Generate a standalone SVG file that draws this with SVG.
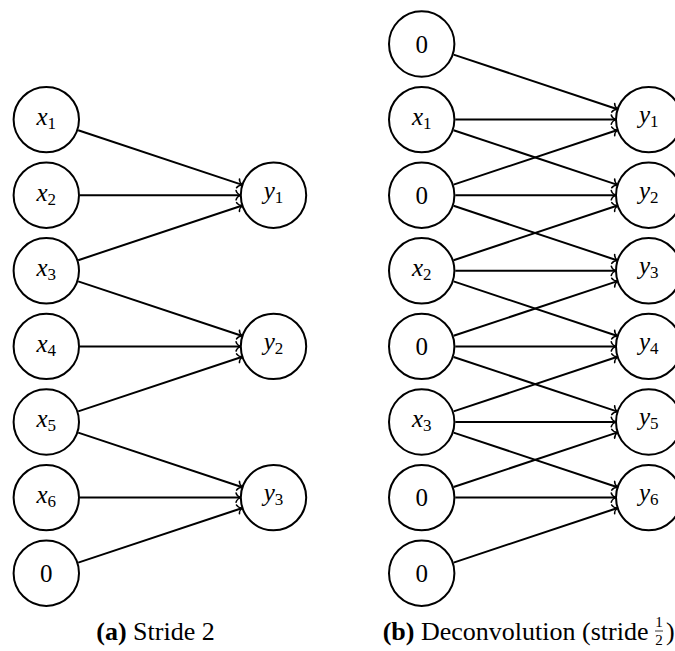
<svg xmlns="http://www.w3.org/2000/svg" width="675" height="651" viewBox="0 0 675 651">
  <style>
    .node circle { fill: #fff; stroke: #000; stroke-width: 2; }
    .lbl { font-family: "Liberation Serif", "Times New Roman", serif; font-size: 25px; fill: #000; }
    .it { font-style: italic; }
    .sub { font-size: 17px; }
    .cap { font-family: "Liberation Serif", "Times New Roman", serif; font-size: 26px; fill: #000; }
    .frac { font-family: "Liberation Serif", "Times New Roman", serif; font-size: 15px; fill: #000; }
    .edges line { stroke: #000; stroke-width: 2; marker-end: url(#to); }
  </style>
  <defs>
    <!-- curved open arrow tip, tip at origin pointing along +x -->
    <marker id="to" markerUnits="userSpaceOnUse" orient="auto" refX="0" refY="0"
            markerWidth="12" markerHeight="12" viewBox="-6 -6 12 12" overflow="visible">
      <path d="M -3.8 -4.6 C -3.4 -2.6 -0.8 -0.5 0.8 0 C -0.8 0.5 -3.4 2.6 -3.8 4.6"
            fill="none" stroke="#000" stroke-width="1.6" stroke-linecap="round" stroke-linejoin="round"/>
    </marker>
  </defs>

  <!-- (a) stride 2 : connectors -->
  <g id="edges-a" class="edges">
    <line x1="78.18" y1="130.21" x2="241.62" y2="184.59"/>
    <line x1="79.9" y1="195.2" x2="239.9" y2="195.2"/>
    <line x1="78.18" y1="260.19" x2="241.62" y2="205.81"/>
    <line x1="78.18" y1="281.41" x2="241.62" y2="335.79"/>
    <line x1="79.9" y1="346.4" x2="239.9" y2="346.4"/>
    <line x1="78.18" y1="411.39" x2="241.62" y2="357.01"/>
    <line x1="78.18" y1="432.61" x2="241.62" y2="486.99"/>
    <line x1="79.9" y1="497.6" x2="239.9" y2="497.6"/>
    <line x1="78.18" y1="562.59" x2="241.62" y2="508.21"/>
  </g>

  <!-- (a) inputs -->
  <g id="a-x1" class="node"><circle cx="46.3" cy="119.6" r="32.7"/>
    <text class="lbl" x="46.3" y="125" text-anchor="middle"><tspan class="it">x</tspan><tspan class="sub" dy="4">1</tspan></text></g>
  <g id="a-x2" class="node"><circle cx="46.3" cy="195.2" r="32.7"/>
    <text class="lbl" x="46.3" y="200.6" text-anchor="middle"><tspan class="it">x</tspan><tspan class="sub" dy="4">2</tspan></text></g>
  <g id="a-x3" class="node"><circle cx="46.3" cy="270.8" r="32.7"/>
    <text class="lbl" x="46.3" y="276.2" text-anchor="middle"><tspan class="it">x</tspan><tspan class="sub" dy="4">3</tspan></text></g>
  <g id="a-x4" class="node"><circle cx="46.3" cy="346.4" r="32.7"/>
    <text class="lbl" x="46.3" y="351.8" text-anchor="middle"><tspan class="it">x</tspan><tspan class="sub" dy="4">4</tspan></text></g>
  <g id="a-x5" class="node"><circle cx="46.3" cy="422" r="32.7"/>
    <text class="lbl" x="46.3" y="427.4" text-anchor="middle"><tspan class="it">x</tspan><tspan class="sub" dy="4">5</tspan></text></g>
  <g id="a-x6" class="node"><circle cx="46.3" cy="497.6" r="32.7"/>
    <text class="lbl" x="46.3" y="503" text-anchor="middle"><tspan class="it">x</tspan><tspan class="sub" dy="4">6</tspan></text></g>
  <g id="a-pad" class="node"><circle cx="46.3" cy="573.2" r="32.7"/>
    <text class="lbl" x="46.3" y="581.7" text-anchor="middle">0</text></g>

  <!-- (a) outputs -->
  <g id="a-y1" class="node"><circle cx="273.5" cy="195.2" r="32.7"/>
    <text class="lbl" x="273.5" y="198.5" text-anchor="middle"><tspan class="it">y</tspan><tspan class="sub" dy="4">1</tspan></text></g>
  <g id="a-y2" class="node"><circle cx="273.5" cy="346.4" r="32.7"/>
    <text class="lbl" x="273.5" y="349.7" text-anchor="middle"><tspan class="it">y</tspan><tspan class="sub" dy="4">2</tspan></text></g>
  <g id="a-y3" class="node"><circle cx="273.5" cy="497.6" r="32.7"/>
    <text class="lbl" x="273.5" y="500.9" text-anchor="middle"><tspan class="it">y</tspan><tspan class="sub" dy="4">3</tspan></text></g>

  <!-- (b) deconvolution : connectors -->
  <g id="edges-b" class="edges">
    <!-- y1 -->
    <line x1="453.58" y1="54.61" x2="616.82" y2="109.0"/>
    <line x1="455.3" y1="119.6" x2="615.1" y2="119.6"/>
    <line x1="453.58" y1="184.59" x2="616.82" y2="130.21"/>
    <!-- y2 -->
    <line x1="453.58" y1="130.21" x2="616.82" y2="184.59"/>
    <line x1="455.3" y1="195.2" x2="615.1" y2="195.2"/>
    <line x1="453.58" y1="260.19" x2="616.82" y2="205.81"/>
    <!-- y3 -->
    <line x1="453.58" y1="205.81" x2="616.82" y2="260.19"/>
    <line x1="455.3" y1="270.8" x2="615.1" y2="270.8"/>
    <line x1="453.58" y1="335.79" x2="616.82" y2="281.41"/>
    <!-- y4 -->
    <line x1="453.58" y1="281.41" x2="616.82" y2="335.79"/>
    <line x1="455.3" y1="346.4" x2="615.1" y2="346.4"/>
    <line x1="453.58" y1="411.39" x2="616.82" y2="357.01"/>
    <!-- y5 -->
    <line x1="453.58" y1="357.01" x2="616.82" y2="411.39"/>
    <line x1="455.3" y1="422" x2="615.1" y2="422"/>
    <line x1="453.58" y1="486.99" x2="616.82" y2="432.61"/>
    <!-- y6 -->
    <line x1="453.58" y1="432.61" x2="616.82" y2="486.99"/>
    <line x1="455.3" y1="497.6" x2="615.1" y2="497.6"/>
    <line x1="453.58" y1="562.59" x2="616.82" y2="508.21"/>
  </g>

  <!-- (b) zero-interleaved inputs -->
  <g id="b-pad0" class="node"><circle cx="421.7" cy="44" r="32.7"/>
    <text class="lbl" x="421.7" y="52.5" text-anchor="middle">0</text></g>
  <g id="b-x1" class="node"><circle cx="421.7" cy="119.6" r="32.7"/>
    <text class="lbl" x="421.7" y="125" text-anchor="middle"><tspan class="it">x</tspan><tspan class="sub" dy="4">1</tspan></text></g>
  <g id="b-pad1" class="node"><circle cx="421.7" cy="195.2" r="32.7"/>
    <text class="lbl" x="421.7" y="203.7" text-anchor="middle">0</text></g>
  <g id="b-x2" class="node"><circle cx="421.7" cy="270.8" r="32.7"/>
    <text class="lbl" x="421.7" y="276.2" text-anchor="middle"><tspan class="it">x</tspan><tspan class="sub" dy="4">2</tspan></text></g>
  <g id="b-pad2" class="node"><circle cx="421.7" cy="346.4" r="32.7"/>
    <text class="lbl" x="421.7" y="354.9" text-anchor="middle">0</text></g>
  <g id="b-x3" class="node"><circle cx="421.7" cy="422" r="32.7"/>
    <text class="lbl" x="421.7" y="427.4" text-anchor="middle"><tspan class="it">x</tspan><tspan class="sub" dy="4">3</tspan></text></g>
  <g id="b-pad3" class="node"><circle cx="421.7" cy="497.6" r="32.7"/>
    <text class="lbl" x="421.7" y="506.1" text-anchor="middle">0</text></g>
  <g id="b-pad4" class="node"><circle cx="421.7" cy="573.2" r="32.7"/>
    <text class="lbl" x="421.7" y="581.7" text-anchor="middle">0</text></g>

  <!-- (b) outputs -->
  <g id="b-y1" class="node"><circle cx="648.7" cy="119.6" r="32.7"/>
    <text class="lbl" x="648.7" y="122.9" text-anchor="middle"><tspan class="it">y</tspan><tspan class="sub" dy="4">1</tspan></text></g>
  <g id="b-y2" class="node"><circle cx="648.7" cy="195.2" r="32.7"/>
    <text class="lbl" x="648.7" y="198.5" text-anchor="middle"><tspan class="it">y</tspan><tspan class="sub" dy="4">2</tspan></text></g>
  <g id="b-y3" class="node"><circle cx="648.7" cy="270.8" r="32.7"/>
    <text class="lbl" x="648.7" y="274.1" text-anchor="middle"><tspan class="it">y</tspan><tspan class="sub" dy="4">3</tspan></text></g>
  <g id="b-y4" class="node"><circle cx="648.7" cy="346.4" r="32.7"/>
    <text class="lbl" x="648.7" y="349.7" text-anchor="middle"><tspan class="it">y</tspan><tspan class="sub" dy="4">4</tspan></text></g>
  <g id="b-y5" class="node"><circle cx="648.7" cy="422" r="32.7"/>
    <text class="lbl" x="648.7" y="425.3" text-anchor="middle"><tspan class="it">y</tspan><tspan class="sub" dy="4">5</tspan></text></g>
  <g id="b-y6" class="node"><circle cx="648.7" cy="497.6" r="32.7"/>
    <text class="lbl" x="648.7" y="500.9" text-anchor="middle"><tspan class="it">y</tspan><tspan class="sub" dy="4">6</tspan></text></g>

  <!-- captions -->
  <g id="caption-a">
    <text class="cap" x="155.5" y="640" text-anchor="middle"><tspan font-weight="bold">(a)</tspan> Stride 2</text>
  </g>
  <g id="caption-b">
    <text class="cap" x="382.7" y="640"><tspan font-weight="bold">(b)</tspan> Deconvolution (stride </text>
    <text class="frac" x="659" y="627" text-anchor="middle">1</text>
    <line x1="655" y1="631" x2="663" y2="631" stroke="#000" stroke-width="0.8"/>
    <text class="frac" x="659" y="645" text-anchor="middle">2</text>
    <text class="cap" x="666" y="640">)</text>
  </g>
</svg>
